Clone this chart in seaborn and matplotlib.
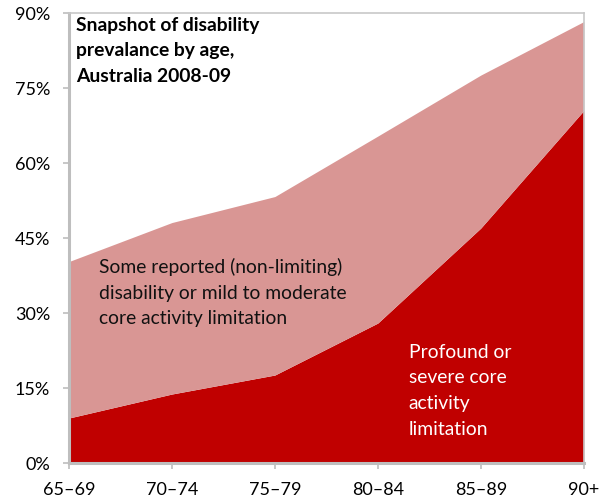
import matplotlib
matplotlib.use("Agg")
import matplotlib.pyplot as plt
from matplotlib.ticker import FuncFormatter, MultipleLocator
import seaborn as sns
import pandas as pd

age_groups = ["65\u201369", "70\u201374", "75\u201379", "80\u201384", "85\u201389", "90+"]
profound_severe = [9.0, 13.8, 17.6, 28.0, 47.0, 70.5]
total_disability = [40.3, 48.1, 53.3, 65.4, 77.6, 88.3]

df = pd.DataFrame({
    "age": age_groups,
    "profound_severe": profound_severe,
    "other": [t - p for t, p in zip(total_disability, profound_severe)],
})

sns.set_theme(style="white")
plt.rcParams["font.family"] = ["Lato", "DejaVu Sans"]

DARK = "#C00000"
LIGHT = "#D99694"

fig = plt.figure(figsize=(6.10, 5.03), dpi=100)
ax = fig.add_axes([0.113, 0.0795, 0.844, 0.8945])

x = range(len(df))
ax.stackplot(x, df["profound_severe"], df["other"], colors=[DARK, LIGHT],
             linewidth=0)

ax.set_xlim(0, len(df) - 1)
ax.set_ylim(0, 90)
ax.set_xticks(list(x))
ax.set_xticklabels(df["age"])
ax.yaxis.set_major_locator(MultipleLocator(15))
ax.yaxis.set_major_formatter(FuncFormatter(lambda v, _: f"{v:.0f}%"))

ax.tick_params(axis="both", which="major", labelsize=13, length=4.5,
               width=1.2, direction="out", colors="#BEBEBE",
               labelcolor="#000000")
ax.tick_params(axis="x", pad=9)
ax.tick_params(axis="y", pad=9)
ax.tick_params(left=True, bottom=True)

for side in ["left", "bottom"]:
    ax.spines[side].set_color("#BEBEBE")
    ax.spines[side].set_linewidth(2.2)
for side in ["top", "right"]:
    ax.spines[side].set_color("#C8C8C8")
    ax.spines[side].set_linewidth(1.2)

ax.text(0.07, 89.2, "Snapshot of disability\nprevalance by age,\nAustralia 2008-09",
        fontsize=13.9, fontweight="bold", color="#000000", va="top", ha="left",
        linespacing=1.6)

ax.text(0.29, 41.0, "Some reported (non-limiting)\ndisability or mild to moderate\ncore activity limitation",
        fontsize=13.9, color="#111111", va="top", ha="left", linespacing=1.6)

ax.text(3.3, 23.9, "Profound or\nsevere core\nactivity\nlimitation",
        fontsize=13.9, color="#FFFFFF", va="top", ha="left", linespacing=1.63)

fig.savefig("out.png", dpi=100)
